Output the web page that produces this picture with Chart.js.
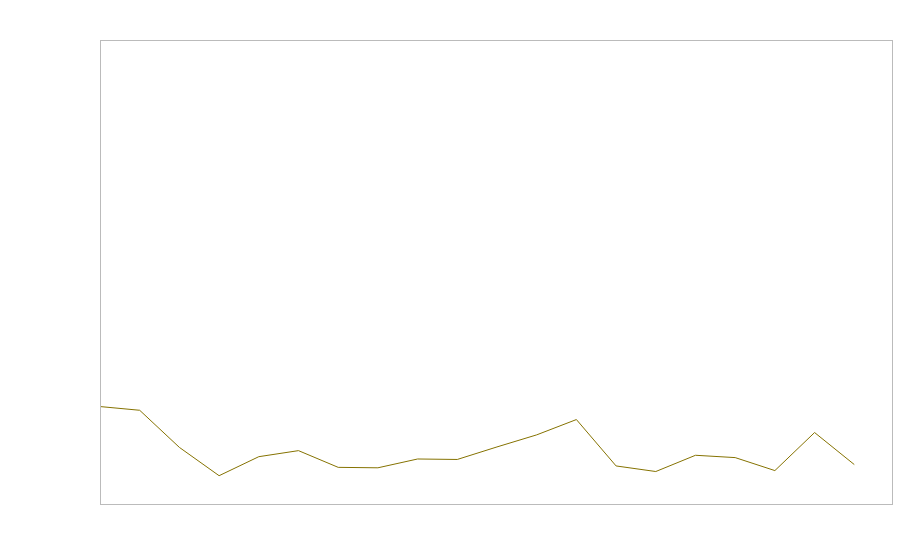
<!DOCTYPE html>
<html>
<head>
<meta charset="utf-8">
<script src="https://cdn.jsdelivr.net/npm/chart.js@4/dist/chart.umd.min.js"></script>
<style>
  html, body { margin: 0; padding: 0; background: #fff; }
  #wrap { width: 900px; height: 560px; }
</style>
</head>
<body>
<div id="wrap"><canvas id="chart"></canvas></div>
<script>
// x positions of the points (linear axis runs 0..~20)
var xs = [0, 1, 2, 3, 4, 5, 6, 7, 8, 9, 10, 11, 12, 13, 14, 15, 16, 17, 18, 19];
// series values on a 0..100 scale
var values = [21.0, 20.2, 12.2, 6.1, 10.2, 11.5, 7.9, 7.8, 9.7, 9.6,
              12.3, 14.9, 18.2, 8.2, 7.0, 10.5, 10.0, 7.2, 15.4, 8.5];

var points = xs.map(function(x, i){ return {x: x, y: values[i]}; });

// plain gray box round the plot area
var frame = {
  id: 'frame',
  afterDraw: function(chart){
    var a = chart.chartArea, ctx = chart.ctx;
    ctx.save();
    ctx.strokeStyle = '#bbbbbb';
    ctx.lineWidth = 1;
    ctx.strokeRect(a.left + 0.5, a.top + 0.5, a.right - a.left, a.bottom - a.top);
    ctx.restore();
  }
};

var ctx = document.getElementById('chart').getContext('2d');
var chart = new Chart(ctx, {
  type: 'line',
  data: {
    datasets: [{
      data: points,
      borderColor: '#857200',
      borderWidth: 1,
      pointRadius: 0,
      tension: 0,
      fill: false
    }]
  },
  options: {
    animation: false,
    responsive: true,
    maintainAspectRatio: false,
    layout: { padding: { left: 100, top: 40, right: 8, bottom: 56 } },
    plugins: {
      legend: { display: false },
      tooltip: { enabled: false }
    },
    scales: {
      x: { type: 'linear', min: 0, max: 19.95, display: false },
      y: { min: 0, max: 100, display: false }
    }
  },
  plugins: [frame]
});
</script>
</body>
</html>
